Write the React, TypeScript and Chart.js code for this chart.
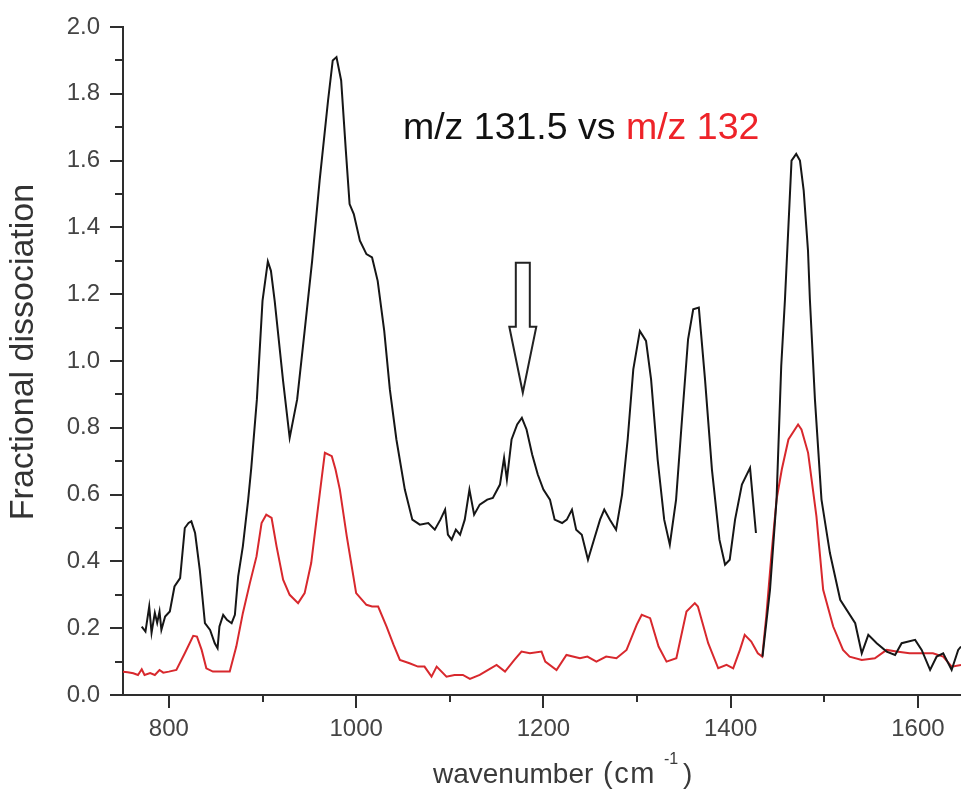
import React, { useEffect, useRef } from "react";
import { Chart, registerables } from "chart.js";

Chart.register(...registerables);

// ---- data ----
const seriesLabels = ["m/z 131.5", "m/z 132"];

const blackX = [
  771, 775, 779, 781.5, 785, 787.5, 790, 792, 796, 801, 806, 812, 817, 821, 824, 828, 833, 838.5, 844, 849,
  852, 854, 858, 862, 867, 870.5, 874, 879, 884.7, 888, 894, 900, 905.7, 909, 913, 922, 929, 937, 945, 953,
  961, 970, 975, 979, 984, 989, 993, 997.5, 1004, 1011, 1017, 1023, 1030, 1036, 1043, 1052, 1060, 1068, 1077, 1084,
  1090, 1095, 1098, 1102, 1106.5, 1111, 1116, 1121, 1126, 1132, 1140, 1146, 1153.6, 1158, 1161, 1166, 1172, 1177, 1182, 1188,
  1194, 1200, 1207, 1212, 1220, 1225, 1230.5, 1235, 1241, 1247.6, 1254, 1260.5, 1265, 1271, 1277.6, 1284, 1290, 1296, 1303, 1309.6,
  1315, 1322, 1329, 1335, 1341.7, 1348, 1354.5, 1360, 1366, 1372.6, 1380, 1388, 1394, 1399, 1404.7, 1412, 1420.7, 1427, 1430,
  1434, 1442, 1449, 1454, 1458, 1465, 1470, 1474, 1478, 1482.6, 1484.6, 1490, 1497, 1506, 1517, 1533, 1540, 1547, 1556, 1566.6,
  1575.6, 1582.6, 1597, 1604, 1613, 1620, 1627, 1636, 1643, 1646,
];
const blackY = [
  0.205, 0.19, 0.265, 0.186, 0.246, 0.216, 0.25, 0.195, 0.235, 0.25, 0.325, 0.35, 0.5, 0.515, 0.52, 0.485, 0.375, 0.215, 0.195, 0.155,
  0.14, 0.205, 0.24, 0.225, 0.215, 0.24, 0.355, 0.445, 0.585, 0.68, 0.885, 1.18, 1.298, 1.27, 1.18, 0.94, 0.77, 0.885, 1.09, 1.3,
  1.54, 1.78, 1.9, 1.91, 1.84, 1.63, 1.47, 1.44, 1.36, 1.32, 1.31, 1.24, 1.09, 0.915, 0.765, 0.615, 0.525, 0.51, 0.515, 0.495,
  0.525, 0.555, 0.48, 0.465, 0.495, 0.48, 0.525, 0.615, 0.54, 0.57, 0.585, 0.59, 0.63, 0.71, 0.645, 0.765, 0.81, 0.83, 0.795, 0.72,
  0.66, 0.615, 0.585, 0.525, 0.515, 0.525, 0.555, 0.495, 0.48, 0.405, 0.465, 0.525, 0.555, 0.525, 0.495, 0.6, 0.765, 0.975, 1.09, 1.06,
  0.945, 0.705, 0.525, 0.45, 0.585, 0.825, 1.065, 1.155, 1.16, 0.945, 0.675, 0.465, 0.39, 0.405, 0.525, 0.63, 0.68, 0.485, null,
  0.115, 0.315, 0.585, 0.985, 1.185, 1.6, 1.62, 1.6, 1.51, 1.33, 1.185, 0.885, 0.585, 0.425, 0.285, 0.215, 0.125, 0.18, 0.155, 0.13,
  0.12, 0.155, 0.165, 0.135, 0.075, 0.115, 0.125, 0.075, 0.135, 0.145,
];

const redX = [
  751, 756, 762, 767, 771, 774, 780, 785, 790, 794, 800, 808, 817, 826, 830, 835, 840, 847, 856, 865,
  872, 879, 886.5, 893.6, 899, 904, 909.7, 915, 922, 929, 938, 945, 952, 957.7, 963, 966.6, 974, 978, 982.6, 990,
  1000, 1011, 1017, 1023.5, 1032.5, 1040, 1046.7, 1057, 1066, 1073, 1080.5, 1086, 1096.5, 1105, 1114, 1121.5, 1132, 1141, 1150, 1159,
  1169, 1176.6, 1185.6, 1198, 1202, 1214, 1224.6, 1239, 1247, 1256.6, 1267, 1278, 1288.8, 1299.6, 1305, 1314, 1323, 1331.5, 1342, 1352.8,
  1361.7, 1365, 1376, 1386.7, 1395.6, 1402.7, 1409.9, 1415, 1422, 1429, 1433.7, 1438, 1443.7, 1449, 1454.6, 1461.7, 1472, 1475.6, 1482.7, 1491.6,
  1498.8, 1509.5, 1520, 1527, 1540, 1554, 1566.6, 1577, 1591, 1605.7, 1616, 1627, 1636, 1646,
];
const redY = [
  0.07, 0.068, 0.065, 0.06, 0.077, 0.06, 0.066, 0.06, 0.075, 0.067, 0.07, 0.075, 0.125, 0.177, 0.175, 0.135, 0.08, 0.07, 0.07, 0.07,
  0.145, 0.245, 0.335, 0.415, 0.515, 0.54, 0.53, 0.445, 0.345, 0.3, 0.275, 0.305, 0.395, 0.525, 0.645, 0.725, 0.715, 0.675, 0.615, 0.475,
  0.305, 0.27, 0.265, 0.265, 0.205, 0.15, 0.105, 0.095, 0.085, 0.085, 0.055, 0.085, 0.055, 0.06, 0.06, 0.048, 0.06, 0.075, 0.09, 0.07,
  0.105, 0.13, 0.125, 0.13, 0.1, 0.075, 0.12, 0.11, 0.115, 0.1, 0.115, 0.11, 0.135, 0.21, 0.24, 0.23, 0.145, 0.1, 0.11, 0.25,
  0.275, 0.265, 0.155, 0.08, 0.09, 0.08, 0.135, 0.18, 0.16, 0.125, 0.115, 0.235, 0.425, 0.585, 0.675, 0.765, 0.81, 0.795, 0.725, 0.535,
  0.315, 0.205, 0.135, 0.115, 0.105, 0.11, 0.135, 0.13, 0.125, 0.125, 0.125, 0.115, 0.085, 0.09,
];

const xMajorTicks = [800, 1000, 1200, 1400, 1600];
const xMinorTicks = [900, 1100, 1300, 1500];
const yMajorTicks = [0, 0.2, 0.4, 0.6, 0.8, 1.0, 1.2, 1.4, 1.6, 1.8, 2.0];
const yMinorTicks = [0.1, 0.3, 0.5, 0.7, 0.9, 1.1, 1.3, 1.5, 1.7, 1.9];

const xRange = [751, 1646];
const yRange = [0, 2];

const yTitle = "Fractional dissociation";
const xTitleMain = "wavenumber";
const xTitleUnit = "(cm";
const xTitleSup = "-1";
const xTitleClose = ")";
const annotationParts = ["m/z 131.5 vs ", "m/z 132"];
const annotationAnchor = { x: 1050, y: 1.664 };
const arrowTip = { x: 1178, y: 0.905 };

// ---- styles ----
const FONT = "'Liberation Sans', Arial, sans-serif";
const AXIS_COLOR = "#2e2e2e";
const LABEL_COLOR = "#444444";
const BLACK = "#161616";
const RED_LINE = "#d8282d";
const RED_TEXT = "#ee2329";

const toPoints = (xs: number[], ys: (number | null)[]) => xs.map((x, i) => ({ x, y: ys[i] }));

const overlayPlugin = {
  id: "overlay",
  afterDraw(chart: any) {
    const { ctx, chartArea } = chart;
    const xs = chart.scales.x;
    const ys = chart.scales.y;
    ctx.save();

    // minor ticks
    ctx.strokeStyle = AXIS_COLOR;
    ctx.lineWidth = 2;
    xMinorTicks.forEach((v) => {
      const px = Math.round(xs.getPixelForValue(v));
      ctx.beginPath();
      ctx.moveTo(px, chartArea.bottom);
      ctx.lineTo(px, chartArea.bottom + 7);
      ctx.stroke();
    });
    yMinorTicks.forEach((v) => {
      const py = Math.round(ys.getPixelForValue(v));
      ctx.beginPath();
      ctx.moveTo(chartArea.left, py);
      ctx.lineTo(chartArea.left - 8, py);
      ctx.stroke();
    });

    // y title
    ctx.fillStyle = "#333333";
    ctx.font = `34px ${FONT}`;
    ctx.textAlign = "center";
    ctx.textBaseline = "middle";
    ctx.save();
    ctx.translate(24, 352);
    ctx.rotate(-Math.PI / 2);
    ctx.fillText(yTitle, 0, 0);
    ctx.restore();

    // x title with superscript
    ctx.textAlign = "left";
    ctx.textBaseline = "alphabetic";
    ctx.fillStyle = "#3a3a3a";
    ctx.font = `28px ${FONT}`;
    const tyBase = 783;
    ctx.fillText(xTitleMain, 433, tyBase);
    ctx.save();
    ctx.font = `29px ${FONT}`;
    try {
      (ctx as any).letterSpacing = "1.5px";
    } catch (e) {}
    ctx.fillText(xTitleUnit, 603, tyBase);
    ctx.restore();
    ctx.fillStyle = "#3a3a3a";
    ctx.font = `16px ${FONT}`;
    ctx.fillText(xTitleSup, 664, 764);
    ctx.font = `28px ${FONT}`;
    ctx.fillText(xTitleClose, 683, tyBase);

    // annotation text
    const ax = xs.getPixelForValue(annotationAnchor.x);
    const ay = ys.getPixelForValue(annotationAnchor.y);
    ctx.font = `37.5px ${FONT}`;
    ctx.fillStyle = "#111111";
    ctx.fillText(annotationParts[0], ax, ay);
    const w0 = ctx.measureText(annotationParts[0]).width;
    ctx.fillStyle = RED_TEXT;
    ctx.fillText(annotationParts[1], ax + w0, ay);

    // hollow arrow
    const tipX = xs.getPixelForValue(arrowTip.x);
    const tipY = ys.getPixelForValue(arrowTip.y);
    ctx.beginPath();
    ctx.moveTo(tipX - 7, tipY - 130);
    ctx.lineTo(tipX + 7, tipY - 130);
    ctx.lineTo(tipX + 7, tipY - 66);
    ctx.lineTo(tipX + 13.5, tipY - 66);
    ctx.lineTo(tipX, tipY);
    ctx.lineTo(tipX - 13.5, tipY - 66);
    ctx.lineTo(tipX - 7, tipY - 66);
    ctx.closePath();
    ctx.fillStyle = "#ffffff";
    ctx.fill();
    ctx.strokeStyle = "#222222";
    ctx.lineWidth = 2;
    ctx.lineJoin = "miter";
    ctx.stroke();

    ctx.restore();
  },
};

export default function App() {
  const canvasRef = useRef<HTMLCanvasElement | null>(null);

  useEffect(() => {
    document.body.style.margin = "0";
    const canvas = canvasRef.current;
    if (!canvas) return;
    const chart = new Chart(canvas, {
      type: "line",
      data: {
        datasets: [
          {
            label: seriesLabels[0],
            data: toPoints(blackX, blackY),
            borderColor: BLACK,
            borderWidth: 2,
            pointRadius: 0,
            tension: 0,
            spanGaps: false,
            fill: false,
          },
          {
            label: seriesLabels[1],
            data: toPoints(redX, redY),
            borderColor: RED_LINE,
            borderWidth: 2,
            pointRadius: 0,
            tension: 0,
            fill: false,
          },
        ],
      },
      options: {
        responsive: false,
        animation: false,
        devicePixelRatio: 1,
        layout: { padding: { top: 27, left: 0, right: 0, bottom: 0 } },
        plugins: {
          legend: { display: false },
          tooltip: { enabled: false },
          title: { display: false },
        },
        scales: {
          x: {
            type: "linear",
            min: xRange[0],
            max: xRange[1],
            afterBuildTicks: (scale: any) => {
              scale.ticks = xMajorTicks.map((v) => ({ value: v }));
            },
            afterFit: (scale: any) => {
              scale.height = 94;
            },
            grid: {
              display: true,
              drawOnChartArea: false,
              drawTicks: true,
              tickLength: 13,
              color: AXIS_COLOR,
              lineWidth: 2,
            },
            border: { display: true, color: AXIS_COLOR, width: 2 },
            ticks: {
              padding: 7,
              color: LABEL_COLOR,
              font: { family: FONT, size: 24 },
              maxRotation: 0,
              autoSkip: false,
              callback: (v: any) => String(v),
            },
            title: { display: false },
          },
          y: {
            type: "linear",
            min: yRange[0],
            max: yRange[1],
            afterBuildTicks: (scale: any) => {
              scale.ticks = yMajorTicks.map((v) => ({ value: v }));
            },
            afterFit: (scale: any) => {
              scale.width = 123;
            },
            grid: {
              display: true,
              drawOnChartArea: false,
              drawTicks: true,
              tickLength: 13,
              color: AXIS_COLOR,
              lineWidth: 2,
            },
            border: { display: true, color: AXIS_COLOR, width: 2 },
            ticks: {
              padding: 10,
              color: LABEL_COLOR,
              font: { family: FONT, size: 24 },
              autoSkip: false,
              callback: (v: any) => Number(v).toFixed(1),
            },
            title: { display: false },
          },
        },
      },
      plugins: [overlayPlugin],
    });
    return () => chart.destroy();
  }, []);

  return (
    <div style={{ position: "absolute", left: 0, top: 0, width: 961, height: 789, background: "#ffffff" }}>
      <canvas ref={canvasRef} width={961} height={789} style={{ display: "block" }} />
    </div>
  );
}
